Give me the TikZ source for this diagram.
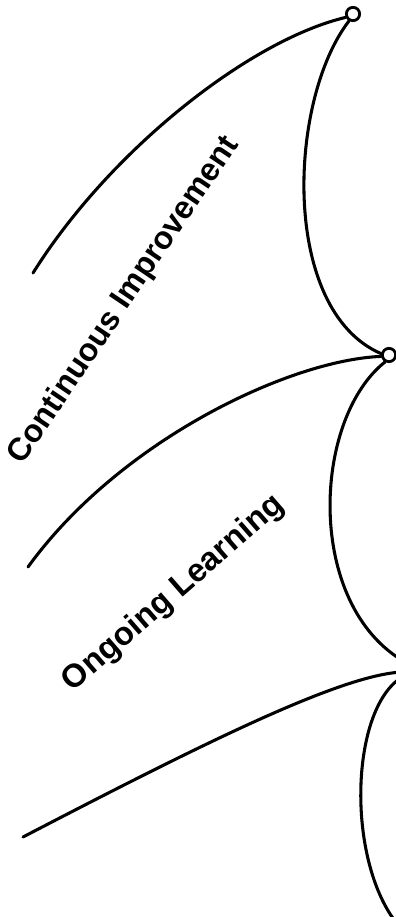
\documentclass[tikz,border=0pt]{standalone}
\usepackage{fontspec}
\setmainfont{Liberation Sans}

\tikzset{every picture/.style={line width=2.2pt}}
\tikzset{
  ring/.style={draw, circle, fill=white, line width=2.1pt, inner sep=0pt, minimum size=10pt},
  sail/.style={line width=2.3pt, line cap=round},
  caption/.style={anchor=base, inner sep=0.75pt, font=\bfseries}
}

\begin{document}
\begin{tikzpicture}[x=0.75pt,y=0.75pt,yscale=-1,xscale=1]
%set diagram left start at 0, and has height of 917
\path[use as bounding box, clip] (0,0) rectangle (396,917);

%Free ends of the curves
\coordinate (topEnd) at (33,273);
\coordinate (midEnd) at (28,567);
\coordinate (midExit) at (405,662);
\coordinate (lowEntry) at (402,672);
\coordinate (lowEnd) at (23,837);
\coordinate (lowEntryB) at (404,676);
\coordinate (lowExit) at (398,925);

%Shape: Circle [ringA]
\node (ringA) [ring] at (353,14) {};
%Shape: Circle [ringB]
\node (ringB) [ring] at (389,355) {};

%Curve Lines [top sail]
\draw [sail] (ringA.205) .. controls (250,40) and (110,150) .. (topEnd) ;
\draw [sail] (ringA.240) .. controls (288,100) and (280,310) .. (ringB.170) ;
%Curve Lines [middle sail]
\draw [sail] (ringB.190) .. controls (290,360) and (120,440) .. (midEnd) ;
\draw [sail] (ringB.240) .. controls (312,420) and (305,605) .. (midExit) ;
%Curve Lines [bottom sail]
\draw [sail] (lowEntry) .. controls (340,675) and (200,745) .. (lowEnd) ;
\draw [sail] (lowEntryB) .. controls (350,705) and (345,860) .. (lowExit) ;

% Text Node
\node (lblCI) [caption, rotate=56] at (131,305) {\fontsize{24}{28}\selectfont\bfseries Continuous Improvement};
% Text Node
\node (lblOL) [caption, rotate=41] at (179,600) {\fontsize{24.5}{28}\selectfont\bfseries Ongoing Learning};

\end{tikzpicture}
\end{document}
